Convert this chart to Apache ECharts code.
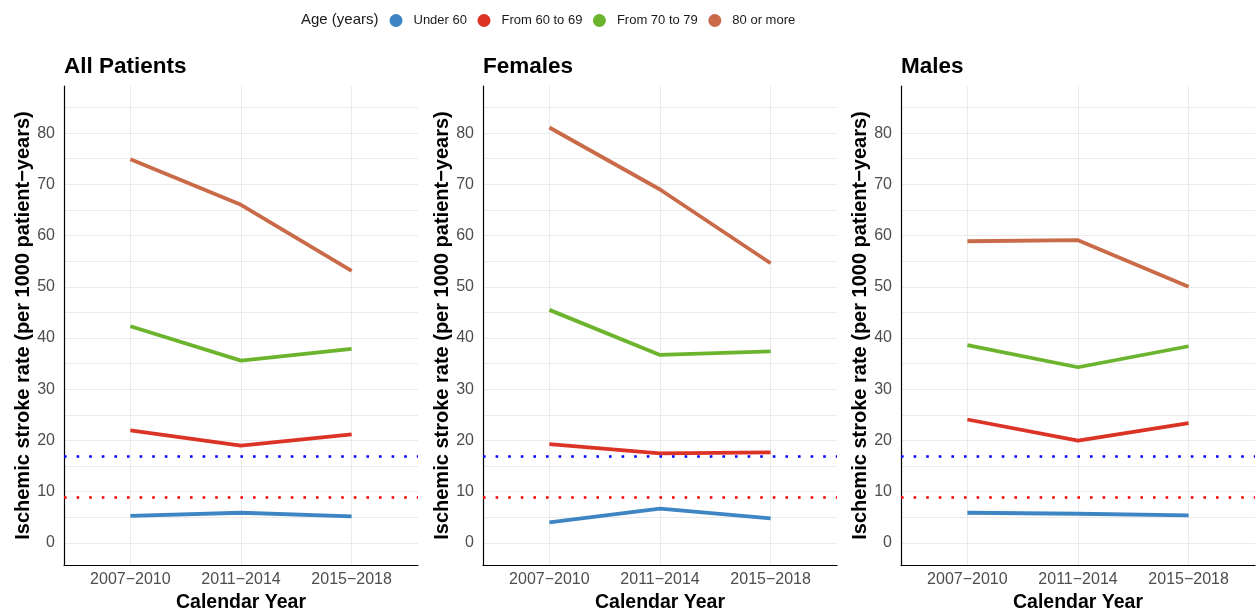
<!DOCTYPE html>
<html>
<head>
<meta charset="utf-8">
<script src="https://cdn.jsdelivr.net/npm/echarts@6/dist/echarts.min.js"></script>
<style>
  html, body { margin: 0; padding: 0; background: #fff; }
  #chart { width: 1257px; height: 612px; }
</style>
</head>
<body>
<div id="chart"></div>
<script>
// categories
const periods = ['2007\u22122010', '2011\u22122014', '2015\u22122018'];
const ageGroups = ['Under 60', 'From 60 to 69', 'From 70 to 79', '80 or more'];
const ageColors = ['#3d85c3', '#dc3327', '#6cb42e', '#c96a48'];
const panelTitles = ['All Patients', 'Females', 'Males'];

// All patients
const allUnder60 = [5.3, 5.9, 5.2];
const all60to69 = [22.0, 19.0, 21.2];
const all70to79 = [42.3, 35.6, 37.9];
const all80plus = [74.9, 66.0, 53.1];

// Females
const femUnder60 = [4.0, 6.7, 4.8];
const fem60to69 = [19.3, 17.5, 17.7];
const fem70to79 = [45.5, 36.7, 37.4];
const fem80plus = [81.1, 69.0, 54.6];

// Males
const malUnder60 = [5.9, 5.7, 5.4];
const mal60to69 = [24.1, 20.0, 23.4];
const mal70to79 = [38.6, 34.3, 38.4];
const mal80plus = [58.9, 59.1, 50.0];

// reference rates (dotted lines)
const referenceRates = [17, 9];
const referenceColors = ['#0000ff', '#ff0000'];

// axis ticks
const yTickLabels = [0, 10, 20, 30, 40, 50, 60, 70, 80];
const yGridValues = [0, 5, 10, 15, 20, 25, 30, 35, 40, 45, 50, 55, 60, 65, 70, 75, 80, 85];

const panelData = [
  [allUnder60, all60to69, all70to79, all80plus],
  [femUnder60, fem60to69, fem70to79, fem80plus],
  [malUnder60, mal60to69, mal70to79, mal80plus]
];

const font = '"Liberation Sans", Arial, Helvetica, sans-serif';
const gridLefts = [64, 483, 901];
const xPos = periods.map((p, i) => i + 1);

// grids sit at fixed pixel positions, no v6 auto-shrinking
const grids = gridLefts.map(l => ({
  left: l, top: 86, width: 354, height: 479,
  outerBoundsMode: 'none', containLabel: false
}));

const xAxes = gridLefts.map((l, i) => ({
  type: 'value',
  gridIndex: i,
  min: 0.4,
  max: 3.6,
  axisLine: { show: true, onZero: false, lineStyle: { color: '#000', width: 1.2 } },
  axisTick: { show: false, customValues: xPos },
  axisLabel: {
    customValues: xPos,
    formatter: v => periods[Math.round(v) - 1],
    color: '#4d4d4d', fontSize: 16, fontFamily: font, margin: 7
  },
  splitLine: { show: true, lineStyle: { color: '#ebebeb', width: 1 } },
  name: 'Calendar Year',
  nameLocation: 'middle',
  nameGap: 23,
  nameTextStyle: { color: '#000', fontSize: 19.5, fontWeight: 'bold', fontFamily: font }
}));

const yAxes = gridLefts.map((l, i) => ({
  type: 'value',
  gridIndex: i,
  min: -4.3,
  max: 89.2,
  axisLine: { show: true, onZero: false, lineStyle: { color: '#000', width: 1.2 } },
  axisTick: { show: false, customValues: yGridValues },
  axisLabel: {
    customValues: yTickLabels,
    color: '#4d4d4d', fontSize: 16, fontFamily: font, margin: 9
  },
  splitLine: { show: true, lineStyle: { color: '#ebebeb', width: 1 } },
  name: 'Ischemic stroke rate (per 1000 patient\u2212years)',
  nameLocation: 'middle',
  nameGap: 31,
  nameTextStyle: { color: '#000', fontSize: 20, fontWeight: 'bold', fontFamily: font }
}));

const series = [];
panelData.forEach((groups, p) => {
  groups.forEach((vals, g) => {
    const s = {
      type: 'line',
      name: ageGroups[g],
      xAxisIndex: p,
      yAxisIndex: p,
      data: vals.map((v, k) => [xPos[k], v]),
      symbol: 'none',
      color: ageColors[g],
      lineStyle: { width: 3.8, color: ageColors[g] },
      animation: false
    };
    if (g === 0) {
      s.markLine = {
        silent: true,
        symbol: 'none',
        label: { show: false },
        animation: false,
        data: referenceRates.map((r, k) => ({
          yAxis: r,
          lineStyle: { color: referenceColors[k], width: 2.6, type: [2.6, 10], cap: 'butt' }
        }))
      };
    }
    series.push(s);
  });
});

const titles = [{
  text: 'Age (years)',
  left: 301, top: 12, padding: 0,
  textStyle: { fontSize: 15, fontWeight: 'normal', color: '#1a1a1a', fontFamily: font }
}].concat(panelTitles.map((t, i) => ({
  text: t,
  left: gridLefts[i], top: 55, padding: 0,
  textStyle: { fontSize: 22.5, fontWeight: 'bold', color: '#000', fontFamily: font }
})));

const chart = echarts.init(document.getElementById('chart'));
chart.setOption({
  backgroundColor: '#fff',
  animation: false,
  title: titles,
  legend: {
    data: ageGroups,
    left: 389.5, top: 14, padding: 0,
    icon: 'circle',
    itemWidth: 13, itemHeight: 13, itemGap: 10.5,
    textStyle: { fontSize: 13, color: '#1a1a1a', fontFamily: font, padding: [0, 0, 0, 6] }
  },
  grid: grids,
  xAxis: xAxes,
  yAxis: yAxes,
  series: series
});
</script>
</body>
</html>
